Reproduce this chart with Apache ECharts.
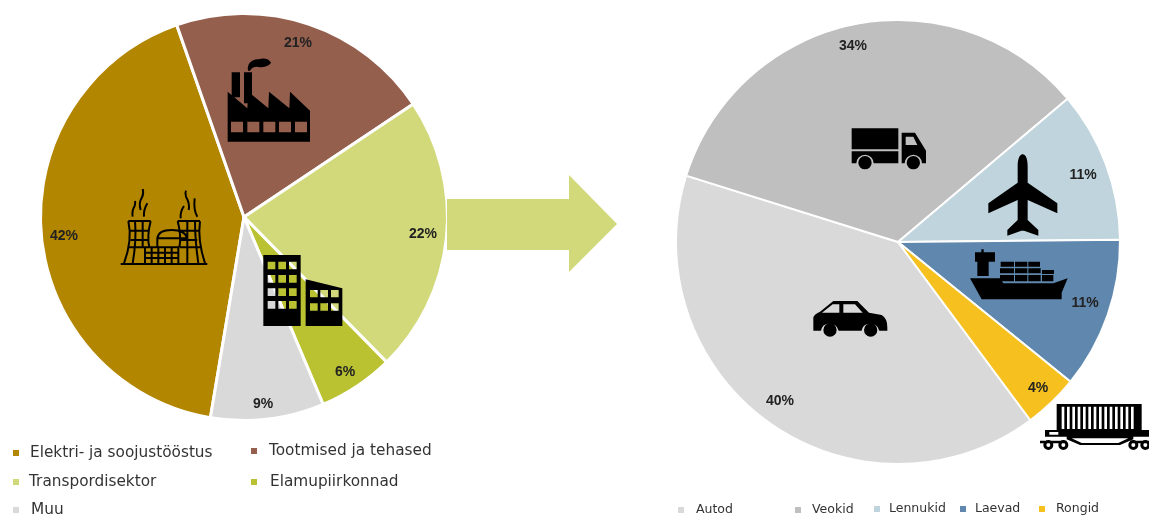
<!DOCTYPE html>
<html>
<head>
<meta charset="utf-8">
<style>html,body{margin:0;padding:0;background:#fff}#chart{width:1149px;height:517px}</style>
<script src="https://cdn.jsdelivr.net/npm/echarts@6/dist/echarts.min.js"></script>
</head>
<body>
<div id="chart"></div>
<script>
// Greenhouse gas shares by sector, and the transport sector split by mode.
const sectorNames = ['Elektri- ja soojustööstus', 'Tootmised ja tehased', 'Transpordisektor', 'Elamupiirkonnad', 'Muu'];
const sectorValues = [42, 21, 22, 6, 9];
const sectorColors = ['#B38600', '#955F4D', '#D2D97A', '#BAC232', '#D9D9D9'];
const sectorLabelPos = [[64, 236], [298, 43], [423, 234], [345, 372], [263, 404]];
const sectorLegendPos = [[11, 445], [249, 443], [11, 474], [249, 474], [11, 502]];
const sectorLegendGap = [5, 6, 4, 7, 6];

const transportNames = ['Autod', 'Veokid', 'Lennukid', 'Laevad', 'Rongid'];
const transportValues = [40, 34, 11, 11, 4];
const transportColors = ['#D9D9D9', '#BFBFBF', '#BFD4DC', '#6088AE', '#F6C11F'];
const transportLabelPos = [[780, 401], [853, 46], [1083, 175], [1085, 303], [1038, 388]];
const transportLegendPos = [[676, 502], [793, 502], [872, 501], [958, 501], [1037, 501]];
const transportLegendGap = [6, 5, 3, 3, 5];

// Subpath helpers: clockwise shapes fill, counter-clockwise ones punch holes.
const box = (l, t, r, b) => `M${l} ${t}L${r} ${t}L${r} ${b}L${l} ${b}Z`;
const hole = (l, t, r, b) => `M${l} ${t}L${l} ${b}L${r} ${b}L${r} ${t}Z`;
const disc = (x, y, r) => `M${x - r} ${y}A${r} ${r} 0 1 1 ${x + r} ${y}A${r} ${r} 0 1 1 ${x - r} ${y}Z`;
const discHole = (x, y, r) => `M${x - r} ${y}A${r} ${r} 0 1 0 ${x + r} ${y}A${r} ${r} 0 1 0 ${x - r} ${y}Z`;

const windowGrid = (xs, ys, w, h) => xs.flatMap(x => ys.map(y => hole(x, y, x + w, y + h))).join('');

// Left pie pictograms, drawn at 3x around the origin (100, 40).
const factoryIcon =
  box(395, 97, 420, 172) + box(432, 97, 456, 190) +
  'M383 155L442 205L445 155L505 205L507 155L568 205L570 155L630 212L630 305L383 305Z' +
  windowGrid([393, 442, 490, 537, 585], [245], 36, 32) +
  'M444 92C440 72 456 56 476 58C490 52 508 56 513 68C506 80 492 80 480 82C466 78 456 82 450 92Z';

const buildingIcon =
  box(490, 645, 602, 858) + windowGrid([503, 535, 567], [665, 705, 745, 783], 23, 23) +
  'M507 858L507 832Q518 818 530 832L530 858Z' +
  'M617 718L727 745L727 858L617 858Z' + windowGrid([630, 661, 693], [750, 790], 23, 22) +
  'M631 858L631 835Q642 822 654 835L654 858Z';

const plantLines =
  'M62 672H322' +
  'M85 543H152M85 543Q98 600 72 670M152 543Q140 590 148 622M105 543Q110 600 98 670M128 543V622' +
  'M90 572H148M92 600H144M84 622H135' +
  'M233 543H300M233 543Q245 590 238 622M300 543Q292 600 315 670M262 543V670M285 543Q285 600 295 670' +
  'M240 572H298M240 600H292M240 622H305' +
  'M172 620V595Q175 570 215 570Q255 570 262 595M172 595H262' +
  'M135 622H235V670M135 622V670M135 638H235M135 654H235M155 622V670M175 622V670M195 622V670M215 622V670' +
  'M98 530Q95 512 104 498Q107 490 105 483M122 510Q115 490 126 472Q132 460 128 447M132 530Q130 510 142 490' +
  'M242 535Q240 515 252 498M266 510Q270 490 258 470Q254 460 258 452M292 530Q280 510 284 475';

// Right pie pictograms, drawn at 3x around the origin (800, 120).
const truckIcon =
  box(155, 25, 295, 88) +
  'M155 94L295 94L295 130L221 130A26 26 0 0 0 169 130L155 130Z' + disc(195, 128, 20) +
  'M305 38L345 38L378 92L378 130L366 130A26 26 0 0 0 314 130L305 130Z' +
  'M317 50L317 75L352 75L340 50Z' + disc(340, 128, 20);

const planeIcon =
  'M668 103C678 103 683 118 683 140L683 188L772 250L772 280L683 240L683 300L715 330L715 347L672 332L664 332L622 347L622 330L653 300L653 240L565 280L565 250L653 188L653 140C653 118 658 103 668 103Z';

const shipIcon =
  box(544, 388, 551, 400) + box(525, 397, 585, 425) + box(532, 425, 566, 468) +
  box(602, 425, 642, 440) + box(645, 425, 682, 440) + box(685, 425, 720, 440) +
  box(600, 445, 642, 460) + box(645, 445, 682, 460) + box(685, 445, 722, 460) + box(726, 450, 762, 462) +
  box(600, 465, 642, 484) + box(645, 465, 682, 484) + box(685, 465, 722, 484) + box(726, 465, 760, 484) +
  'M510 475L600 475L610 490L760 490L803 475L785 518L785 538L545 538Z';

const carIcon =
  'M40 592Q44 582 60 575L100 543L172 543L207 578L245 585Q262 595 262 622L262 632L238 632A27 27 0 0 0 185 632L116 632A27 27 0 0 0 63 632L40 632Z' +
  'M66 578L118 578L118 553L98 553Z' + 'M130 553L130 578L188 578L165 553Z' +
  disc(90, 630, 20) + disc(212, 630, 20);

const trainIcon =
  box(770, 852, 1025, 935) +
  [785, 801, 817, 833, 849, 865, 881, 897, 913, 929, 945, 961, 977, 993].map(x => hole(x, 860, x + 8, 927)).join('') +
  box(735, 930, 1047, 950) + hole(748, 936, 775, 944) +
  'M800 950L1000 950L1000 958L960 975L840 975L800 958Z' + 'M815 955L845 969L955 969L985 955Z' +
  [745, 790, 1000, 1036].map(x => disc(x, 975, 15) + discHole(x, 975, 6)).join('') +
  box(720, 962, 800, 970) + box(990, 962, 1047, 970);

const iconPaths = { factoryIcon, buildingIcon, plantLines, truckIcon, planeIcon, shipIcon, carIcon, trainIcon };
Object.keys(iconPaths).forEach(name => {
  echarts.graphic.registerShape(name, echarts.graphic.extendPath(iconPaths[name], {}));
});

const icon = (type, x, y, style) => ({
  type, x, y, scaleX: 1 / 3, scaleY: 1 / 3, z: 20, silent: true,
  shape: {},
  style: Object.assign({ fill: '#000' }, style)
});
const leftIcon = (type, style) => icon(type, 100, 40, style);
const rightIcon = (type, style) => icon(type, 800, 120, style);

const legendEntry = (name, pos, gap, size, lineHeight) => ({
  data: [name],
  orient: 'horizontal',
  left: pos[0],
  top: pos[1],
  padding: 0,
  icon: 'rect',
  itemWidth: 8,
  itemHeight: 8,
  selectedMode: false,
  textStyle: {
    fontFamily: 'DejaVu Sans',
    fontSize: size,
    lineHeight: lineHeight,
    color: '#333',
    padding: [0, 0, 0, gap]
  }
});

const pieSeries = (names, values, colors, labels, center, radius, startAngle, border) => ({
  type: 'pie',
  silent: true,
  center: center,
  radius: radius,
  startAngle: startAngle,
  clockwise: true,
  animation: false,
  avoidLabelOverlap: false,
  itemStyle: { borderColor: '#fff', borderWidth: border },
  label: {
    show: true,
    position: 'inside',
    formatter: '{c}%',
    fontFamily: 'Liberation Sans',
    fontWeight: 'bold',
    fontSize: 14,
    color: '#222'
  },
  labelLine: { show: false },
  labelLayout: p => ({
    x: labels[p.dataIndex][0],
    y: labels[p.dataIndex][1],
    align: 'center',
    verticalAlign: 'middle'
  }),
  data: names.map((name, i) => ({ name, value: values[i], itemStyle: { color: colors[i] } }))
});

const chart = echarts.init(document.getElementById('chart'), null, { renderer: 'canvas' });
chart.setOption({
  animation: false,
  backgroundColor: '#fff',
  legend: [
    ...sectorNames.map((n, i) => legendEntry(n, sectorLegendPos[i], sectorLegendGap[i], 15.3, 16)),
    ...transportNames.map((n, i) => legendEntry(n, transportLegendPos[i], transportLegendGap[i], 12.5, 16))
  ],
  series: [
    pieSeries(sectorNames, sectorValues, sectorColors, sectorLabelPos, [244, 217], 203.5, -99.5, 3),
    pieSeries(transportNames, transportValues, transportColors, transportLabelPos, [898, 242], 222, -53.4, 2)
  ],
  graphic: [
    // Arrow leading from the transport slice to its breakdown
    {
      type: 'polygon',
      z: 20,
      shape: { points: [[447, 199], [569, 199], [569, 175], [617, 224], [569, 272], [569, 250], [447, 250]] },
      style: { fill: '#D2D97A' }
    },
    leftIcon('factoryIcon'),
    leftIcon('buildingIcon'),
    leftIcon('plantLines', { fill: 'none', stroke: '#000', lineWidth: 6 }),
    rightIcon('truckIcon'),
    rightIcon('planeIcon'),
    rightIcon('shipIcon'),
    rightIcon('carIcon'),
    rightIcon('trainIcon')
  ]
});
</script>
</body>
</html>
